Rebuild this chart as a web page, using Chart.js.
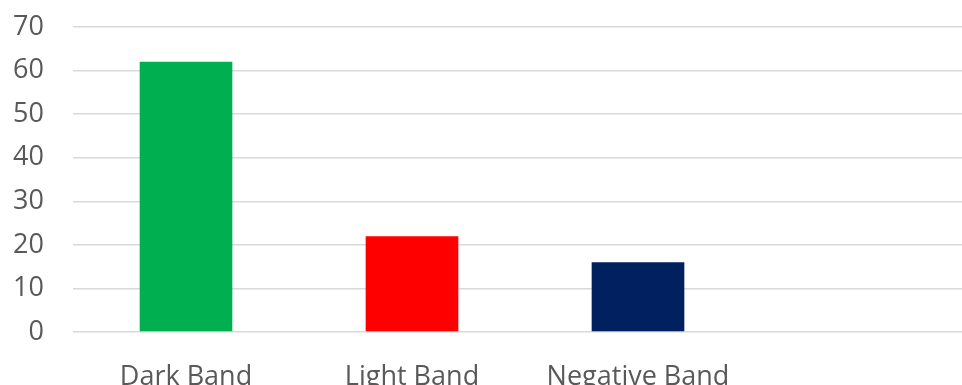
<!DOCTYPE html>
<html>
<head>
<meta charset="utf-8">
<script src="https://cdn.jsdelivr.net/npm/chart.js@4/dist/chart.umd.min.js"></script>
<style>
  html, body { margin: 0; padding: 0; background: #fff; overflow: hidden; }
  #wrap { position: absolute; left: 0; top: 0; width: 977px; height: 400px; }
</style>
</head>
<body>
<div id="wrap"><canvas id="bandChart"></canvas></div>
<script>
const categories = ['Dark Band', 'Light Band', 'Negative Band', ''];
const counts = [62, 22, 16, null];
const barColors = ['#00B050', '#FF0000', '#002060', '#FFFFFF'];
const yTicks = [0, 10, 20, 30, 40, 50, 60, 70];

const ctx = document.getElementById('bandChart').getContext('2d');
new Chart(ctx, {
  type: 'bar',
  data: {
    labels: categories,
    datasets: [{
      data: counts,
      backgroundColor: barColors,
      borderWidth: 0,
      categoryPercentage: 1,
      barPercentage: 0.41,
    }],
  },
  options: {
    responsive: true,
    maintainAspectRatio: false,
    animation: false,
    layout: { padding: { top: 27, left: 0, right: 0, bottom: 0 } },
    plugins: {
      legend: { display: false },
      tooltip: { enabled: false },
    },
    scales: {
      x: {
        grid: { display: false, drawTicks: false },
        border: { display: false },
        ticks: {
          color: '#595959',
          font: { family: 'Open Sans', size: 27 },
          padding: 29,
          maxRotation: 0,
          autoSkip: false,
        },
        afterFit: (scale) => { scale.height = 68; },
      },
      y: {
        min: 0,
        max: 70,
        afterBuildTicks: (scale) => { scale.ticks = yTicks.map(v => ({ value: v })); },
        grid: { color: '#D9D9D9', lineWidth: 1.5, drawTicks: false },
        border: { display: false },
        ticks: {
          color: '#595959',
          font: { family: 'Open Sans', size: 27 },
          padding: 29,
        },
        afterFit: (scale) => {
          scale.width = 73;
          scale.paddingTop = 0;
          scale.paddingBottom = 0;
        },
      },
    },
  },
});
</script>
</body>
</html>
